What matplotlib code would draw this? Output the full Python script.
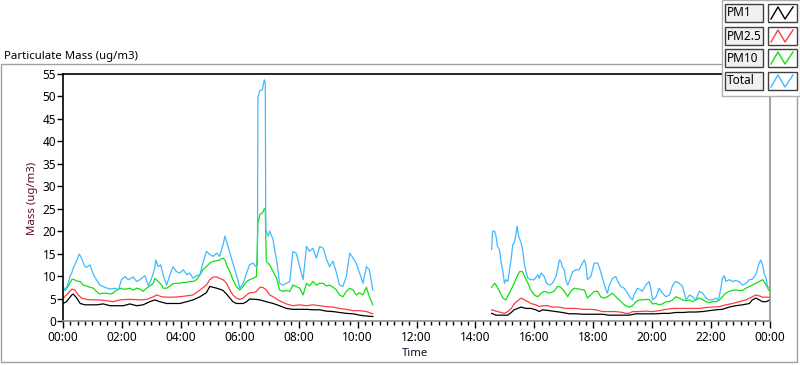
import numpy as np
import matplotlib
matplotlib.use("Agg")
import matplotlib.pyplot as plt
from matplotlib.ticker import MultipleLocator, FuncFormatter
from matplotlib.patches import Rectangle
from matplotlib.lines import Line2D

plt.rcParams['font.family'] = ['Noto Sans', 'DejaVu Sans']

# ---------------- data (minutes since midnight, ug/m3) ----------------
series_names = ["PM1", "PM2.5", "PM10", "Total"]
series_colors = ["#000000", "#ff3c3c", "#10e010", "#40baff"]

pm1_seg1 = [(0,3.9),(7,4.3),(18,5.8),(21,6.0),(28,5.1),(35,3.9),(45,3.6),(55,3.6),(68,3.6),(82,3.8),(96,3.4),
            (109,3.4),(123,3.4),(136,3.8),(150,3.4),(163,3.6),(177,4.3),(187,4.7),(197,4.3),(211,3.9),(224,3.9),
            (238,3.9),(252,4.3),(265,4.7),(279,5.4),(292,6.3),(299,7.7),(306,7.5),(313,7.3),(319,7.1),(326,6.8),
            (333,6.0),(340,5.1),(346,4.3),(353,3.9),(367,3.9),(374,4.3),(380,4.9),(394,4.8),(401,4.7),(414,4.3),
            (428,3.9),(441,3.4),(455,2.8),(468,2.6),(482,2.6),(496,2.6),(509,2.5),(523,2.5),(536,2.2),(550,2.1),
            (563,1.9),(577,1.7),(591,1.6),(604,1.3),(618,1.1),(631,1.0)]
pm1_seg2 = [(873,1.7),(882,1.3),(896,1.3),(906,1.3),(913,1.9),(919,2.5),(926,2.8),(933,3.1),(943,2.8),(953,2.8),
            (963,2.5),(970,2.1),(977,2.5),(991,2.3),(1004,2.1),(1017,1.9),(1031,1.6),(1045,1.6),(1058,1.5),
            (1072,1.5),(1085,1.5),(1099,1.5),(1112,1.3),(1126,1.3),(1140,1.3),(1153,1.3),(1167,1.6),(1180,1.6),
            (1194,1.6),(1208,1.6),(1221,1.7),(1235,1.7),(1248,1.9),(1262,1.9),(1276,2.0),(1289,2.0),(1303,2.1),
            (1316,2.3),(1330,2.5),(1343,2.6),(1357,3.1),(1370,3.4),(1384,3.6),(1398,3.9),(1404,4.7),(1411,5.1),
            (1418,4.7),(1425,4.3),(1432,4.3),(1440,4.7)]

pm25_seg1 = [(0,5.1),(7,5.8),(18,7.1),(24,6.9),(31,5.8),(38,5.1),(48,4.8),(62,4.7),(75,4.7),(89,4.5),(102,4.3),
             (116,4.7),(129,4.8),(143,4.8),(157,4.7),(170,4.8),(184,5.4),(191,5.8),(201,5.4),(211,5.3),(224,5.3),
             (238,5.4),(252,5.6),(265,5.8),(279,6.9),(292,8.0),(299,9.2),(306,9.8),(313,9.8),(319,9.5),(326,9.2),
             (333,8.4),(340,6.9),(346,5.8),(353,5.1),(360,4.8),(367,5.1),(374,5.8),(380,6.3),(387,6.3),(394,6.6),
             (401,7.5),(407,7.5),(414,6.9),(421,5.8),(428,5.4),(441,4.5),(455,3.8),(468,3.4),(482,3.6),(496,3.4),
             (509,3.6),(523,3.4),(536,3.2),(550,3.1),(563,2.8),(577,2.6),(591,2.3),(604,2.3),(618,2.1),(631,1.6)]
pm25_seg2 = [(873,2.5),(882,2.2),(892,1.9),(899,1.7),(906,2.1),(913,2.8),(919,3.8),(926,4.5),(933,5.1),(940,4.7),
             (947,4.3),(953,3.9),(963,3.6),(970,3.2),(977,3.4),(987,3.4),(997,3.1),(1011,3.1),(1024,2.8),
             (1031,2.8),(1045,2.8),(1058,2.6),(1072,2.6),(1085,2.5),(1099,2.1),(1112,2.1),(1126,2.1),(1140,1.9),
             (1146,1.7),(1153,1.7),(1160,2.1),(1174,2.1),(1187,2.2),(1201,2.1),(1214,2.3),(1228,2.6),(1242,2.8),
             (1255,2.8),(1269,2.8),(1282,2.8),(1296,2.8),(1310,3.0),(1323,3.1),(1337,3.2),(1350,3.6),(1364,3.9),
             (1377,4.3),(1391,4.7),(1404,5.4),(1411,5.8),(1418,5.6),(1425,5.3),(1432,5.3),(1440,5.3)]

pm10_seg1 = [(0,7.3),(4,6.8),(11,7.8),(18,9.2),(21,9.3),(28,8.9),(35,8.8),(41,8.0),(48,7.8),(55,7.5),(62,7.3),
             (68,6.6),(75,6.0),(82,6.2),(89,6.2),(96,6.0),(102,6.2),(109,6.9),(116,7.3),(123,7.1),(129,7.1),
             (136,7.3),(143,6.9),(150,7.3),(157,7.1),(163,6.6),(170,7.3),(177,7.8),(184,8.4),(187,9.5),(194,8.8),
             (201,8.0),(204,7.3),(211,7.3),(218,7.8),(224,8.3),(231,8.4),(238,8.4),(245,8.6),(252,8.6),(258,8.8),
             (265,8.8),(272,9.2),(279,10.3),(285,11.4),(292,12.1),(299,12.9),(306,13.3),(313,13.4),(319,13.6),
             (326,14.0),(330,13.6),(333,12.5),(340,11.0),(346,9.2),(353,7.7),(360,6.9),(367,7.7),(374,8.8),
             (380,9.2),(387,9.5),(394,9.9),(397,21.8),(401,23.7),(407,24.2),(410,25.0),(412,25.0),(414,13.3),
             (421,12.5),(428,11.0),(435,9.5),(441,6.9),(448,6.6),(455,6.8),(462,6.6),(468,8.0),(475,7.7),
             (482,7.3),(489,5.8),(496,8.4),(502,7.8),(509,8.8),(516,8.0),(523,8.4),(530,8.4),(536,7.8),(543,8.0),
             (550,7.5),(557,6.9),(563,5.8),(570,5.4),(577,6.6),(584,7.3),(591,6.9),(597,5.8),(604,6.3),(611,5.8),
             (618,7.5),(624,5.4),(631,3.6)]
pm10_seg2 = [(873,7.5),(879,8.4),(882,8.0),(889,6.6),(896,5.1),(902,4.7),(909,6.2),(916,7.7),(923,9.5),(930,11.0),
             (936,11.0),(940,9.9),(947,8.4),(953,6.9),(960,5.8),(967,5.4),(974,6.2),(980,6.6),(991,6.2),
             (1000,6.6),(1007,7.7),(1014,7.5),(1021,6.6),(1028,5.4),(1034,6.6),(1041,7.3),(1051,7.1),(1062,6.9),
             (1068,5.1),(1075,5.8),(1082,6.6),(1089,6.6),(1095,5.4),(1102,5.1),(1109,5.4),(1119,6.2),(1126,5.4),
             (1133,4.7),(1140,3.9),(1146,3.4),(1153,3.1),(1160,3.4),(1167,4.3),(1174,4.7),(1180,4.7),(1187,4.8),
             (1194,4.8),(1201,3.8),(1208,3.9),(1214,3.6),(1221,3.8),(1228,4.3),(1235,4.3),(1242,4.7),(1248,5.4),
             (1255,5.1),(1262,4.7),(1269,4.5),(1276,4.7),(1282,4.3),(1289,4.7),(1296,5.1),(1303,4.7),(1310,4.3),
             (1316,4.1),(1323,4.3),(1330,4.3),(1337,4.7),(1343,5.4),(1350,6.2),(1357,6.6),(1364,6.8),(1370,6.9),
             (1377,6.8),(1384,6.8),(1391,7.3),(1398,7.7),(1404,8.0),(1411,8.4),(1418,8.8),(1425,9.2),(1432,8.0),
             (1438,6.8),(1440,6.9)]

total_seg1 = [(0,7.8),(4,6.8),(11,8.5),(14,9.9),(18,10.8),(21,11.8),(28,13.5),(33,14.9),(38,14.0),(41,13.0),
              (45,12.1),(48,12.0),(55,12.5),(62,10.3),(68,9.2),(75,8.0),(85,7.5),(96,7.1),(106,7.3),(113,6.9),
              (119,9.2),(126,9.9),(133,9.2),(143,9.8),(150,8.8),(157,9.2),(167,10.1),(174,7.8),(180,9.3),
              (187,11.8),(189,13.6),(194,12.1),(199,12.5),(205,9.9),(211,8.0),(218,10.3),(224,12.1),(231,11.0),
              (238,10.7),(245,11.4),(252,10.3),(258,10.7),(265,9.5),(272,10.1),(279,10.3),(285,12.9),(292,15.5),
              (299,14.8),(306,14.4),(313,15.1),(319,14.4),(326,17.0),(330,18.9),(336,16.6),(343,14.0),(350,11.4),
              (357,8.8),(360,7.3),(367,8.4),(374,10.7),(380,12.5),(387,12.9),(393,12.1),(396,12.5),(397,49.9),
              (401,51.3),(406,51.5),(410,53.7),(412,53.0),(413,20.3),(418,18.9),(421,20.0),(428,18.1),(431,15.9),
              (436,12.9),(441,8.4),(448,8.0),(455,8.4),(462,8.8),(468,15.5),(475,15.1),(482,12.1),(489,9.2),
              (496,16.6),(502,15.5),(509,16.2),(516,14.0),(523,16.6),(530,16.2),(536,14.0),(543,12.1),(550,13.3),
              (557,10.7),(563,8.0),(570,7.7),(577,9.9),(584,15.1),(591,14.0),(597,12.9),(604,10.7),(611,8.4),
              (618,12.1),(624,11.4),(631,6.9)]
total_seg2 = [(873,15.9),(875,20.0),(879,20.0),(882,18.9),(885,16.6),(889,15.9),(892,13.3),(896,11.0),(899,8.4),
              (902,9.2),(906,8.8),(909,11.0),(913,14.0),(916,17.0),(919,17.4),(923,19.6),(925,21.1),(928,18.9),
              (933,17.4),(936,15.9),(940,12.5),(943,11.0),(947,9.5),(953,9.2),(960,9.2),(967,10.3),(970,9.5),
              (974,10.7),(980,9.9),(985,8.4),(991,8.0),(997,8.4),(1004,9.9),(1007,11.4),(1011,13.6),(1014,13.3),
              (1017,12.1),(1021,11.4),(1024,9.2),(1028,8.0),(1031,8.8),(1038,11.0),(1045,11.4),(1051,11.4),
              (1058,12.9),(1062,13.6),(1065,12.5),(1068,9.2),(1075,9.9),(1082,12.9),(1089,12.9),(1092,12.1),
              (1099,9.5),(1106,6.9),(1109,6.2),(1112,7.7),(1119,9.5),(1126,9.9),(1130,8.8),(1136,7.7),(1143,7.3),
              (1150,6.2),(1156,5.1),(1160,4.7),(1163,5.8),(1170,7.3),(1177,6.9),(1180,6.6),(1187,8.0),(1194,8.8),
              (1197,7.3),(1201,4.7),(1208,5.4),(1214,7.3),(1221,6.2),(1228,5.4),(1235,5.8),(1242,8.0),(1248,8.8),
              (1255,8.4),(1262,7.7),(1269,4.7),(1276,5.8),(1282,5.4),(1289,4.7),(1296,6.6),(1303,6.2),(1310,5.1),
              (1316,4.7),(1323,4.7),(1330,5.1),(1335,4.7),(1340,7.3),(1343,9.5),(1347,10.1),(1350,8.8),(1357,9.2),
              (1364,8.8),(1370,9.0),(1377,8.8),(1384,8.0),(1391,8.4),(1398,9.2),(1404,9.3),(1411,10.3),(1418,12.9),
              (1421,13.6),(1425,12.5),(1428,10.7),(1432,9.5),(1435,7.5),(1438,7.5),(1440,7.8)]

series_data = [(pm1_seg1, pm1_seg2), (pm25_seg1, pm25_seg2), (pm10_seg1, pm10_seg2), (total_seg1, total_seg2)]

x_ticks_minutes = list(range(0, 1441, 120))
y_ticks = list(range(0, 56, 5))

# ---------------- figure ----------------
W, H = 800, 365
fig = plt.figure(figsize=(W / 100, H / 100), dpi=100)
fig.patch.set_facecolor("white")

def fx(px):
    return px / W

def fy(py):
    return 1 - py / H

# outer gray frame of the chart panel
fig.patches.append(Rectangle((fx(1), fy(362)), fx(796), 298 / H, transform=fig.transFigure,
                             fill=False, edgecolor="#a0a0a0", linewidth=1.0))

ax = fig.add_axes([fx(63), fy(321), fx(770 - 63), (321 - 74) / H])
ax.set_facecolor("white")

for (seg1, seg2), color in zip(series_data, series_colors):
    t = [p[0] for p in seg1] + [np.nan] + [p[0] for p in seg2]
    v = [p[1] for p in seg1] + [np.nan] + [p[1] for p in seg2]
    ax.plot(t, v, color=color, linewidth=0.9)

ax.set_xlim(0, 1440)
ax.set_ylim(0, 55)
ax.set_xticks(x_ticks_minutes)
ax.xaxis.set_minor_locator(MultipleLocator(15))
ax.xaxis.set_major_formatter(FuncFormatter(lambda m, p: "%02d:%02d" % ((int(m) // 60) % 24, int(m) % 60)))
ax.set_yticks(y_ticks)

ax.tick_params(axis="x", which="major", length=5, width=1, color="black", labelsize=8.5, pad=2)
ax.tick_params(axis="x", which="minor", length=3, width=1, color="black")
ax.tick_params(axis="y", which="major", length=4, width=1, color="black", labelsize=8.5, pad=1)

for side in ["top", "left"]:
    ax.spines[side].set_color("black")
    ax.spines[side].set_linewidth(1.2)
for side in ["bottom", "right"]:
    ax.spines[side].set_color("#909090")
    ax.spines[side].set_linewidth(1.2)

# titles / labels
fig.text(fx(4), fy(56), "Particulate Mass (ug/m3)", fontsize=8.2, ha="left", va="center", color="black")
fig.text(fx(32), fy(198), "Mass (ug/m3)", fontsize=8.2, ha="center", va="center", rotation=90, color="#5c1020")
fig.text(fx(415), fy(354), "Time", fontsize=8.2, ha="center", va="center", color="#1a0a2a")

# legend panel (LabVIEW style)
fig.patches.append(Rectangle((fx(722), fy(96)), fx(78), 96 / H, transform=fig.transFigure,
                             facecolor="white", edgecolor="#b0b0b0", linewidth=1.0))
row_centers = [13, 36, 58, 81]
for name, color, yc in zip(series_names, series_colors, row_centers):
    fig.patches.append(Rectangle((fx(725), fy(yc + 9)), fx(38), 18 / H, transform=fig.transFigure,
                                 facecolor="#f0f0f0", edgecolor="#404040", linewidth=1.0))
    fig.text(fx(727), fy(yc), name, fontsize=8.5, ha="left", va="center", color="black")
    fig.patches.append(Rectangle((fx(768), fy(yc + 9)), fx(29), 18 / H, transform=fig.transFigure,
                                 facecolor="white", edgecolor="#404040", linewidth=1.0))
    xs = [fx(771), fx(778), fx(785), fx(793)]
    ys = [fy(yc + 6), fy(yc - 6), fy(yc + 6), fy(yc - 6)]
    fig.lines.append(Line2D(xs, ys, transform=fig.transFigure, color=color, linewidth=1.0))

fig.savefig("out.png", dpi=100)
